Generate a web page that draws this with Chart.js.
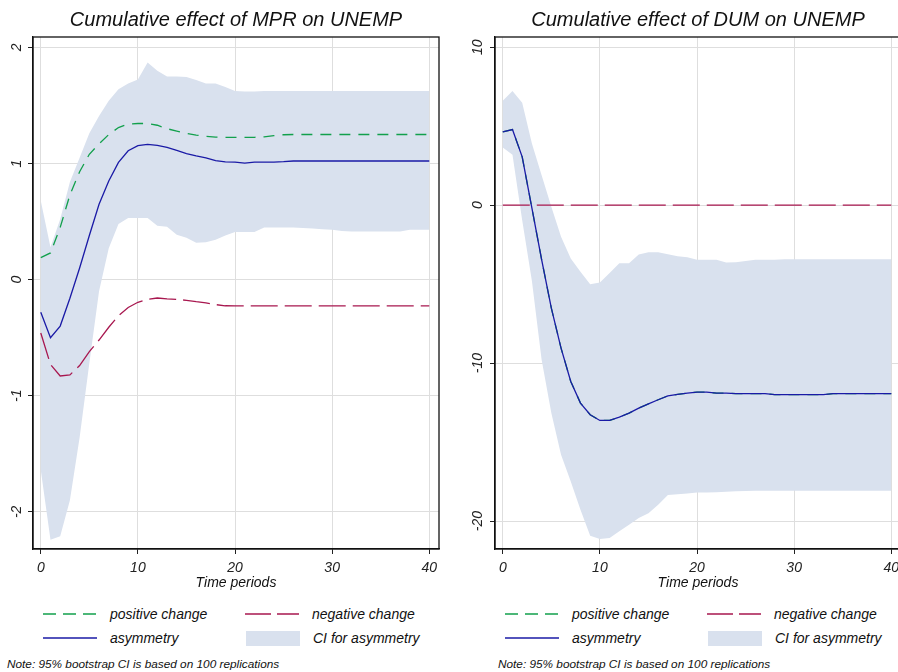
<!DOCTYPE html>
<html>
<head>
<meta charset="utf-8">
<script src="https://cdn.jsdelivr.net/npm/chart.js@4.4.1/dist/chart.umd.min.js"></script>
<style>
  body { margin: 0; width: 898px; height: 672px; overflow: hidden; background: #fff; position: relative;
         font-family: "Liberation Sans", Arial, sans-serif; font-style: italic; color: #111; }
  .panel { position: absolute; top: 0; width: 449px; height: 672px; }
  .panel canvas { position: absolute; left: 0; top: 0; }
  .item { position: absolute; height: 20px; display: flex; align-items: center; font-size: 14px; white-space: nowrap; }
  .item svg { margin-right: 13px; }
  .note { position: absolute; font-size: 11.8px; white-space: nowrap; }
</style>
</head>
<body>
<div class="panel" id="panelMpr" style="left:0">
  <canvas id="chartMpr" width="449" height="595"></canvas>
</div>
<div class="panel" id="panelDum" style="left:462px">
  <canvas id="chartDum" width="449" height="595"></canvas>
</div>
<script>
// time periods (x axis)
const periods = [0, 1, 2, 3, 4, 5, 6, 7, 8, 9, 10, 11, 12, 13, 14, 15, 16, 17, 18, 19, 20,
  21, 22, 23, 24, 25, 26, 27, 28, 29, 30, 31, 32, 33, 34, 35, 36, 37, 38, 39, 40];
const xTicks = [0, 10, 20, 30, 40];

// Cumulative effect of MPR on UNEMP
const mprPositive = [0.19, 0.23, 0.45, 0.73, 0.93, 1.08, 1.17, 1.25, 1.31, 1.34, 1.345, 1.345, 1.33, 1.30, 1.28, 1.26, 1.245, 1.235, 1.228, 1.226, 1.226,
  1.226, 1.226, 1.23, 1.24, 1.248, 1.25, 1.25, 1.25, 1.25, 1.25, 1.25, 1.25, 1.25, 1.25, 1.25, 1.25, 1.25, 1.25, 1.25, 1.25];
const mprNegative = [-0.46, -0.73, -0.83, -0.82, -0.74, -0.62, -0.52, -0.41, -0.31, -0.24, -0.195, -0.17, -0.158, -0.165, -0.17, -0.178, -0.19, -0.2, -0.215, -0.225, -0.226,
  -0.226, -0.226, -0.226, -0.226, -0.226, -0.226, -0.226, -0.226, -0.226, -0.226, -0.226, -0.226, -0.226, -0.226, -0.226, -0.226, -0.226, -0.226, -0.226, -0.226];
const mprAsym = [-0.28, -0.50, -0.40, -0.16, 0.10, 0.38, 0.65, 0.85, 1.01, 1.11, 1.155, 1.165, 1.157, 1.14, 1.113, 1.086, 1.066, 1.049, 1.026, 1.014, 1.012,
  1.003, 1.012, 1.012, 1.012, 1.016, 1.022, 1.022, 1.022, 1.022, 1.022, 1.022, 1.022, 1.022, 1.022, 1.022, 1.022, 1.022, 1.022, 1.022, 1.022];
const mprUpper = [0.68, 0.28, 0.52, 0.84, 1.05, 1.26, 1.41, 1.54, 1.64, 1.69, 1.725, 1.87, 1.80, 1.75, 1.75, 1.745, 1.72, 1.69, 1.69, 1.66, 1.625,
  1.62, 1.62, 1.625, 1.625, 1.625, 1.625, 1.625, 1.625, 1.625, 1.625, 1.625, 1.625, 1.625, 1.625, 1.625, 1.625, 1.625, 1.625, 1.625, 1.625];
const mprLower = [-1.64, -2.24, -2.21, -1.90, -1.36, -0.72, -0.10, 0.27, 0.48, 0.53, 0.53, 0.53, 0.465, 0.455, 0.386, 0.36, 0.318, 0.323, 0.344, 0.38, 0.41,
  0.41, 0.41, 0.45, 0.45, 0.45, 0.45, 0.445, 0.44, 0.435, 0.43, 0.42, 0.415, 0.415, 0.415, 0.415, 0.415, 0.415, 0.43, 0.43, 0.43];
const mprTicks = [-2, -1, 0, 1, 2];

// Cumulative effect of DUM on UNEMP
const dumPositive = [4.64, 4.79, 3.06, -0.19, -3.44, -6.52, -9.05, -11.16, -12.53, -13.27, -13.63, -13.63, -13.42, -13.17, -12.85, -12.58, -12.32, -12.07, -11.98, -11.9, -11.84,
  -11.84, -11.9, -11.9, -11.93, -11.93, -11.93, -11.93, -12.0, -12.0, -12.0, -12.0, -12.0, -12.0, -11.93, -11.93, -11.93, -11.93, -11.93, -11.93, -11.93];
const dumNegative = [0, 0, 0, 0, 0, 0, 0, 0, 0, 0, 0, 0, 0, 0, 0, 0, 0, 0, 0, 0, 0,
  0, 0, 0, 0, 0, 0, 0, 0, 0, 0, 0, 0, 0, 0, 0, 0, 0, 0, 0, 0];
const dumAsym = [4.64, 4.79, 3.06, -0.19, -3.44, -6.52, -9.05, -11.16, -12.53, -13.27, -13.63, -13.63, -13.42, -13.17, -12.85, -12.58, -12.32, -12.07, -11.98, -11.9, -11.84,
  -11.84, -11.9, -11.9, -11.93, -11.93, -11.93, -11.93, -12.0, -12.0, -12.0, -12.0, -12.0, -12.0, -11.93, -11.93, -11.93, -11.93, -11.93, -11.93, -11.93];
const dumUpper = [6.62, 7.23, 6.49, 3.9, 1.9, -0.1, -2.0, -3.38, -4.22, -5.0, -4.9, -4.29, -3.67, -3.67, -3.13, -2.98, -2.98, -3.1, -3.23, -3.3, -3.46,
  -3.46, -3.46, -3.63, -3.62, -3.53, -3.46, -3.46, -3.46, -3.42, -3.42, -3.42, -3.42, -3.42, -3.42, -3.42, -3.42, -3.42, -3.42, -3.42, -3.42];
const dumLower = [3.65, 3.2, -0.95, -4.8, -9.79, -13.16, -15.8, -17.49, -19.28, -20.93, -21.14, -21.08, -20.65, -20.23, -19.81, -19.5, -18.97, -18.35, -18.3, -18.25, -18.19,
  -18.19, -18.17, -18.15, -18.12, -18.1, -18.08, -18.08, -18.08, -18.08, -18.08, -18.08, -18.08, -18.08, -18.08, -18.08, -18.08, -18.08, -18.08, -18.08, -18.08];
const dumTicks = [-20, -10, 0, 10];

const GREEN = '#12a04c';
const RED = '#a8174f';
const BLUE = '#1a1aa6';
const CI_FILL = '#d9e1ee';
const FONT = '"Liberation Sans", Arial, sans-serif';

const framePlugin = {
  id: 'frame',
  afterDatasetsDraw(chart) {
    const a = chart.chartArea;
    const ctx = chart.ctx;
    ctx.save();
    ctx.strokeStyle = '#111';
    ctx.lineWidth = 1.3;
    ctx.strokeRect(a.left, a.top, a.right - a.left, a.bottom - a.top);
    ctx.restore();
  }
};

function toPoints(values) {
  return values.map((v, i) => ({ x: periods[i], y: v }));
}

function buildChart(canvasId, title, s, yTicks, yMin, yMax, tickPad) {
  const italic = size => ({ family: FONT, size: size, style: 'italic', weight: 'normal' });
  return new Chart(document.getElementById(canvasId), {
    type: 'line',
    data: {
      datasets: [
        { label: 'asymmetry', data: toPoints(s.asym), borderColor: BLUE, borderWidth: 1.3, fill: false, order: 1 },
        { label: 'positive change', data: toPoints(s.pos), borderColor: GREEN, borderWidth: 1.3, borderDash: [11, 8], fill: false, order: 2 },
        { label: 'negative change', data: toPoints(s.neg), borderColor: RED, borderWidth: 1.3, borderDash: [27, 7], fill: false, order: 3 },
        { label: 'CI upper', data: toPoints(s.upper), borderColor: 'rgba(0,0,0,0)', borderWidth: 0, backgroundColor: CI_FILL, fill: '+1', order: 4 },
        { label: 'CI lower', data: toPoints(s.lower), borderColor: 'rgba(0,0,0,0)', borderWidth: 0, fill: false, order: 5 }
      ]
    },
    options: {
      responsive: false,
      animation: false,
      layout: { padding: { right: 10 } },
      elements: { point: { radius: 0 }, line: { tension: 0 } },
      plugins: {
        legend: { display: false },
        tooltip: { enabled: false },
        title: { display: true, text: title, fullSize: false, color: '#111', font: italic(20), padding: { top: 8, bottom: 5 } }
      },
      scales: {
        x: {
          type: 'linear', min: -0.8, max: 41,
          afterBuildTicks: sc => { sc.ticks = xTicks.map(v => ({ value: v })); },
          afterFit: sc => { sc.height = 46; },
          grid: { color: '#dedede', tickColor: '#222', tickLength: 5 },
          border: { color: '#111', width: 1.3 },
          ticks: { font: italic(14), color: '#222', padding: 6, maxRotation: 0 },
          title: { display: true, text: 'Time periods', color: '#111', font: italic(14), padding: { top: 0, bottom: 3 } }
        },
        y: {
          type: 'linear', min: yMin, max: yMax,
          afterBuildTicks: sc => { sc.ticks = yTicks.map(v => ({ value: v })); },
          afterFit: sc => { sc.width = 33; },
          grid: { color: '#dedede', tickColor: '#222', tickLength: 5 },
          border: { color: '#111', width: 1.3 },
          ticks: { font: italic(14), color: '#222', minRotation: 90, maxRotation: 90, crossAlign: 'center', padding: tickPad }
        }
      }
    },
    plugins: [framePlugin]
  });
}

function lineSample(color, dash) {
  return `<svg width="54" height="4"><line x1="0" y1="2" x2="54" y2="2" stroke="${color}" stroke-width="1.5"${dash ? ` stroke-dasharray="${dash}"` : ''}/></svg>`;
}

function addLegend(panelId, noteLeft) {
  const panel = document.getElementById(panelId);
  const items = [
    { left: 43, top: 604, html: lineSample(GREEN, '13,7') + 'positive change' },
    { left: 245, top: 604, html: lineSample(RED, '26,6') + 'negative change' },
    { left: 43, top: 628, html: lineSample(BLUE, '') + 'asymmetry' },
    { left: 246, top: 628, html: `<svg width="54" height="15"><rect width="54" height="15" fill="${CI_FILL}"/></svg>CI for asymmetry` }
  ];
  let html = '';
  for (const it of items) {
    html += `<div class="item" style="left:${it.left}px;top:${it.top}px">${it.html}</div>`;
  }
  html += `<div class="note" style="left:${noteLeft}px;top:657px">Note: 95% bootstrap CI is based on 100 replications</div>`;
  panel.insertAdjacentHTML('beforeend', html);
}

buildChart('chartMpr', 'Cumulative effect of MPR on UNEMP',
  { pos: mprPositive, neg: mprNegative, asym: mprAsym, upper: mprUpper, lower: mprLower },
  mprTicks, -2.32, 2.09, 5);
buildChart('chartDum', 'Cumulative effect of DUM on UNEMP',
  { pos: dumPositive, neg: dumNegative, asym: dumAsym, upper: dumUpper, lower: dumLower },
  dumTicks, -21.77, 10.65, 2);

addLegend('panelMpr', 7);
addLegend('panelDum', 36);
</script>
</body>
</html>
